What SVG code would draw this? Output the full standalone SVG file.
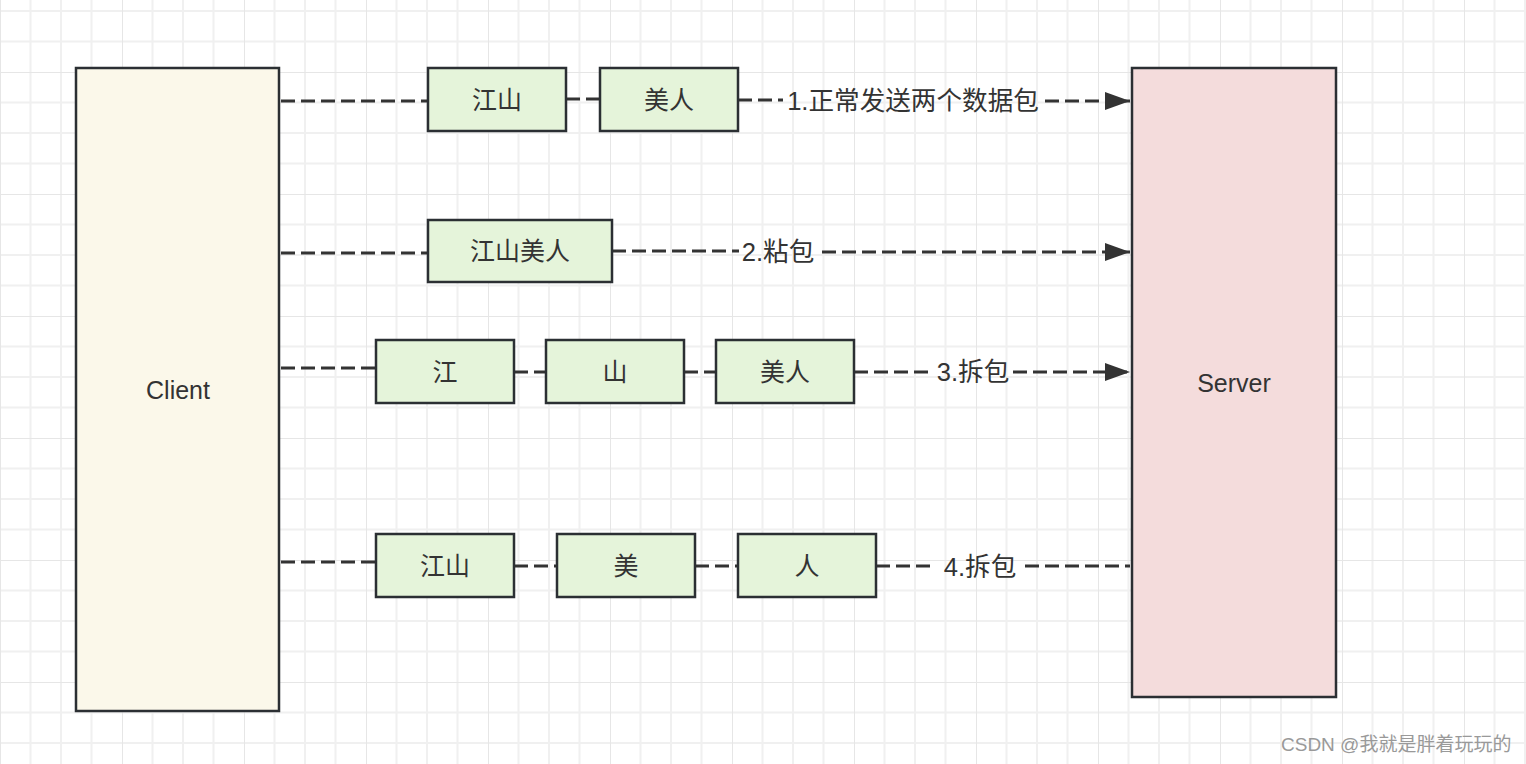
<svg xmlns="http://www.w3.org/2000/svg" width="1526" height="764" viewBox="0 0 1526 764">
<defs>
<pattern id="grid" x="0" y="72" width="122" height="122" patternUnits="userSpaceOnUse">
<path d="M30.5 0V122M61 0V122M91.5 0V122M0 30.5H122M0 61H122M0 91.5H122" stroke="#f0f0f0" stroke-width="2" fill="none"/>
<path d="M0 0V122M0 0H122" stroke="#e6e6e6" stroke-width="2" fill="none"/>
</pattern>
<marker id="arr" viewBox="0 0 25 18" refX="25" refY="9" markerWidth="25" markerHeight="18" markerUnits="userSpaceOnUse" orient="auto">
<path d="M0 0L25 9L0 18Z" fill="#333"/>
</marker>
<style>
.big{stroke:#2b2f33;stroke-width:2.5}
.client{fill:#fbf8ea}
.server{fill:#f4dcdc}
.pkt{fill:#e5f4da;stroke:#2b2f33;stroke-width:2.5}
.t{font-family:"Liberation Sans","Noto Sans CJK SC",sans-serif;font-size:25px;fill:#333;text-anchor:middle;dominant-baseline:central}
.l{font-size:25.6px}
.c{fill:none;stroke:#333;stroke-width:3;stroke-dasharray:14 6}
.wm{font-family:"Liberation Sans","Noto Sans CJK SC",sans-serif;font-size:19px;fill:#999}
</style>
</defs>
<rect width="1526" height="764" fill="#fff"/>
<rect width="1526" height="764" fill="url(#grid)"/>

<g id="connectors">
<path class="c" d="M281 101H428"/>
<path class="c" d="M566 99H599"/>
<path class="c" d="M738 100H783"/>
<path class="c" d="M1045 101H1130" marker-end="url(#arr)"/>
<text class="t l" x="913" y="101">1.正常发送两个数据包</text>

<path class="c" d="M281 253H428"/>
<path class="c" d="M612 251H739"/>
<path class="c" d="M822 252H1130" marker-end="url(#arr)"/>
<text class="t l" x="778" y="252">2.粘包</text>

<path class="c" d="M281 368H376"/>
<path class="c" d="M514 372H546"/>
<path class="c" d="M684 372H716"/>
<path class="c" d="M854 372H933"/>
<path class="c" d="M1013 372H1130" marker-end="url(#arr)"/>
<text class="t l" x="973" y="372">3.拆包</text>

<path class="c" d="M281 562H376"/>
<path class="c" d="M514 566H557"/>
<path class="c" d="M695 566H738"/>
<path class="c" d="M876 566H936"/>
<path class="c" d="M1025 566H1130"/>
<text class="t l" x="980" y="567">4.拆包</text>
</g>

<g id="client">
<rect class="big client" x="76" y="68" width="203" height="643"/>
<text class="t" x="178" y="390">Client</text>
</g>
<g id="server">
<rect class="big server" x="1132" y="68" width="204" height="629"/>
<text class="t" x="1234" y="383">Server</text>
</g>

<g id="r1-jiangshan"><rect class="pkt" x="428" y="68" width="138" height="63"/><text class="t" x="497" y="100">江山</text></g>
<g id="r1-meiren"><rect class="pkt" x="600" y="68" width="138" height="63"/><text class="t" x="669" y="100">美人</text></g>

<g id="r2-all"><rect class="pkt" x="428" y="220" width="184" height="62"/><text class="t" x="520" y="251">江山美人</text></g>

<g id="r3-jiang"><rect class="pkt" x="376" y="340" width="138" height="63"/><text class="t" x="445" y="372">江</text></g>
<g id="r3-shan"><rect class="pkt" x="546" y="340" width="138" height="63"/><text class="t" x="615" y="372">山</text></g>
<g id="r3-meiren"><rect class="pkt" x="716" y="340" width="138" height="63"/><text class="t" x="785" y="372">美人</text></g>

<g id="r4-jiangshan"><rect class="pkt" x="376" y="534" width="138" height="63"/><text class="t" x="445" y="566">江山</text></g>
<g id="r4-mei"><rect class="pkt" x="557" y="534" width="138" height="63"/><text class="t" x="626" y="566">美</text></g>
<g id="r4-ren"><rect class="pkt" x="738" y="534" width="138" height="63"/><text class="t" x="807" y="566">人</text></g>

<text class="wm" x="1281" y="751">CSDN @我就是胖着玩玩的</text>
</svg>
